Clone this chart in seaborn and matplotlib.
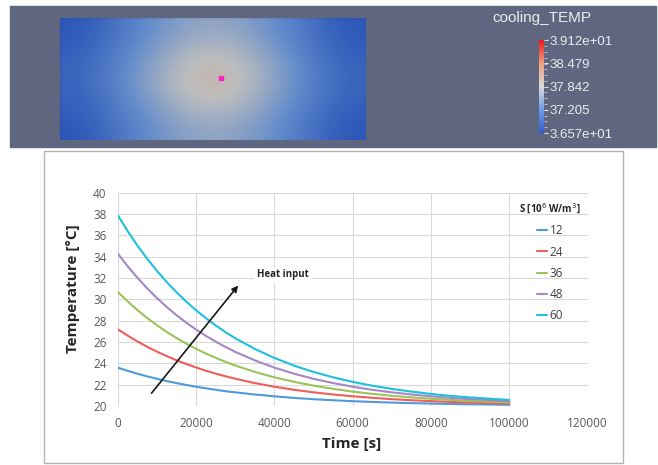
import numpy as np
import pandas as pd
import matplotlib
matplotlib.use("Agg")
import matplotlib.pyplot as plt
from matplotlib.colors import LinearSegmentedColormap
from matplotlib.patches import Rectangle
import seaborn as sns

# ---------------------------------------------------------------
# Datos
# ---------------------------------------------------------------
TIMES = [0, 2500, 5000, 7500, 10000, 12500, 15000, 17500, 20000, 22500,
         25000, 27500, 30000, 35000, 40000, 45000, 50000, 55000, 60000,
         65000, 70000, 75000, 80000, 85000, 90000, 95000, 100000]

T_S12 = [23.60, 23.30, 23.03, 22.78, 22.55, 22.34, 22.15, 21.97, 21.81, 21.66,
         21.52, 21.39, 21.28, 21.08, 20.91, 20.76, 20.64, 20.54, 20.45,
         20.38, 20.32, 20.27, 20.23, 20.19, 20.16, 20.14, 20.11]
T_S24 = [27.20, 26.61, 26.06, 25.56, 25.10, 24.68, 24.29, 23.94, 23.61, 23.31,
         23.04, 22.79, 22.56, 22.15, 21.81, 21.52, 21.28, 21.08, 20.91,
         20.77, 20.64, 20.54, 20.46, 20.38, 20.32, 20.27, 20.23]
T_S36 = [30.70, 29.82, 29.01, 28.26, 27.58, 26.95, 26.38, 25.85, 25.37, 24.92,
         24.52, 24.14, 23.80, 23.20, 22.69, 22.27, 21.91, 21.61, 21.35,
         21.14, 20.96, 20.81, 20.68, 20.57, 20.48, 20.40, 20.34]
T_S48 = [34.30, 33.12, 32.04, 31.04, 30.13, 29.29, 28.52, 27.82, 27.17, 26.58,
         26.04, 25.54, 25.08, 24.28, 23.60, 23.03, 22.55, 22.15, 21.81,
         21.52, 21.28, 21.08, 20.91, 20.76, 20.64, 20.54, 20.45]
T_S60 = [37.90, 36.42, 35.06, 33.82, 32.68, 31.63, 30.67, 29.79, 28.98, 28.24,
         27.56, 26.93, 26.36, 25.35, 24.51, 23.79, 23.19, 22.69, 22.26,
         21.90, 21.60, 21.35, 21.13, 20.95, 20.80, 20.68, 20.57]

S_LABELS = ["12", "24", "36", "48", "60"]
S_COLORS = ["#4f9ad8", "#ee5f5b", "#9bc35a", "#a387c6", "#1fc0da"]

# campo de temperatura del render (filas de arriba a abajo)
FIELD = [
    [36.62, 36.88, 37.20, 37.45, 37.56, 37.45, 37.20, 36.88, 36.62],
    [36.72, 36.98, 37.35, 37.70, 37.88, 37.70, 37.35, 36.98, 36.72],
    [36.78, 37.08, 37.48, 37.85, 38.05, 37.85, 37.48, 37.08, 36.78],
    [36.72, 36.98, 37.35, 37.70, 37.88, 37.70, 37.35, 36.98, 36.72],
    [36.62, 36.88, 37.20, 37.45, 37.56, 37.45, 37.20, 36.88, 36.62],
]
T_MIN, T_MAX = 36.57, 39.12
CBAR_TICKS = [36.57, 37.205, 37.842, 38.479, 39.12]
CBAR_LABELS = ["3.657e+01", "37.205", "37.842", "38.479", "3.912e+01"]

ARROW_FROM = (8200, 21.0)
ARROW_TO = (31200, 31.5)

W, H = 658, 465


def box(x0, y0, x1, y1):
    """Rectángulo en píxeles -> coordenadas de figura."""
    return [x0 / W, 1 - y1 / H, (x1 - x0) / W, (y1 - y0) / H]


sns.set_theme(style="whitegrid")
plt.rcParams["font.family"] = ["Open Sans", "DejaVu Sans"]

fig = plt.figure(figsize=(W / 100, H / 100), dpi=100)
fig.patch.set_facecolor("white")

# ==========================================
# PANEL SUPERIOR: render tipo ParaView
# ==========================================
fig.patches.append(Rectangle((10 / W, 1 - 147 / H), 646 / W, 141 / H,
                             transform=fig.transFigure, color="#5f6780",
                             zorder=-5))

cmap = LinearSegmentedColormap.from_list(
    "cool_warm", ["#2f5fd0", "#6e9ee8", "#d9d9d9", "#f3a07f", "#f01818"])

ax_r = fig.add_axes(box(60, 18, 366, 140))
ax_r.imshow(np.array(FIELD), cmap=cmap, vmin=T_MIN, vmax=T_MAX,
            interpolation="bicubic", aspect="auto")
ax_r.add_patch(Rectangle((0, 0), 1, 1, transform=ax_r.transAxes,
                         color="black", alpha=0.12))
ax_r.plot([0.526], [0.508], "s", color="#ff20c8", markersize=3,
          transform=ax_r.transAxes)
ax_r.set_axis_off()

cax = fig.add_axes(box(539, 40, 544, 133))
sm = plt.cm.ScalarMappable(cmap=cmap, norm=plt.Normalize(T_MIN, T_MAX))
cb = fig.colorbar(sm, cax=cax)
cb.outline.set_visible(False)
cb.set_ticks(CBAR_TICKS)
cb.set_ticklabels(CBAR_LABELS)
cb.ax.minorticks_on()
cb.ax.tick_params(which="major", length=3, width=0.8, color="#e6e6e6",
                  labelsize=9.5, labelcolor="#ececec", pad=1)
cb.ax.tick_params(which="minor", length=2, width=0.6, color="#d0d0d0")
for t in cb.ax.get_yticklabels():
    t.set_family(["Liberation Sans", "DejaVu Sans"])
fig.text(542 / W, 1 - 18 / H, "cooling_TEMP", ha="center", va="center",
         fontsize=11, color="#ececec", family=["Liberation Sans", "DejaVu Sans"])

# ==========================================
# PANEL INFERIOR: curvas de enfriamiento
# ==========================================
fig.patches.append(Rectangle((44 / W, 1 - 463 / H), 579 / W, 312 / H,
                             transform=fig.transFigure, fill=False,
                             edgecolor="#b4b4b4", lw=1.0, zorder=-5))

df = pd.DataFrame({
    "Time": TIMES * 5,
    "Temp": T_S12 + T_S24 + T_S36 + T_S48 + T_S60,
    "S": sum([[s] * len(TIMES) for s in S_LABELS], []),
})

ax = fig.add_axes(box(117.7, 192.7, 587.7, 406))
sns.lineplot(data=df, x="Time", y="Temp", hue="S", hue_order=S_LABELS,
             palette=dict(zip(S_LABELS, S_COLORS)), linewidth=1.5, ax=ax)

ax.set_xlim(0, 120000)
ax.set_ylim(20, 40)
ax.set_xticks(range(0, 120001, 20000))
ax.set_yticks(range(20, 41, 2))
ax.grid(True, color="#d9d9d9", linewidth=0.8)
ax.set_facecolor("white")
for s in ax.spines.values():
    s.set_visible(False)
ax.tick_params(length=0, labelsize=8.5, labelcolor="#595959", pad=8)

ax.set_xlabel("Time [s]", fontsize=11, fontweight="bold", color="#262626")
ax.set_ylabel("Temperature [°C]", fontsize=11, fontweight="bold", color="#262626")
ax.xaxis.set_label_coords(0.4985, -0.145)
ax.yaxis.set_label_coords(-0.08, 0.548)

ax.annotate("", xy=ARROW_TO, xytext=ARROW_FROM,
            arrowprops=dict(arrowstyle="-|>", color="#1a1a1a", lw=1.2,
                            mutation_scale=9))
ax.text(35600, 32.3, "Heat input", fontsize=7, fontweight="bold",
        color="#262626", ha="left", va="center",
        bbox=dict(facecolor="white", edgecolor="none", pad=2))

sns.move_legend(ax, "upper center", bbox_to_anchor=(0.92, 0.985),
                title="S [10$^6$ W/m$^3$]", frameon=False, fontsize=8.5,
                title_fontsize=7, handlelength=0.85, handletextpad=0.25,
                labelspacing=0.7, borderpad=0)
leg = ax.get_legend()
leg.get_title().set_fontweight("bold")
for t in leg.get_texts():
    t.set_color("#404040")

fig.savefig("out.png", dpi=100)
